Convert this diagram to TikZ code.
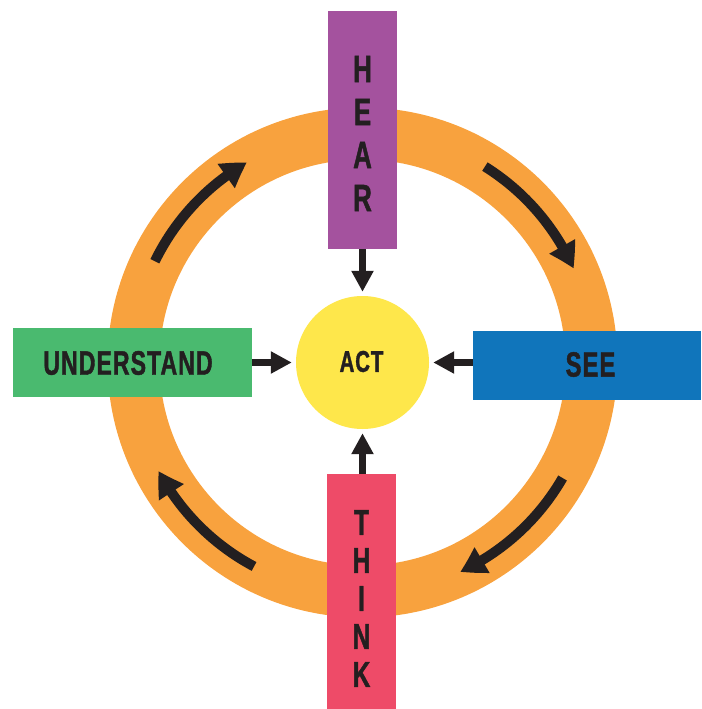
\documentclass[tikz,border=0pt]{standalone}
\usepackage{fontspec}
\usetikzlibrary{arrows.meta,bending}
\newfontfamily\labelfont{Liberation Sans}[FakeStretch=0.68,LetterSpace=3,FakeBold=1.2]

\definecolor{ringorange}{HTML}{F8A23E}
\definecolor{hearpurple}{HTML}{A4529E}
\definecolor{seeblue}{HTML}{1075BB}
\definecolor{understandgreen}{HTML}{4ABA6F}
\definecolor{thinkpink}{HTML}{EE4B68}
\definecolor{actyellow}{HTML}{FEE74B}
\definecolor{inkdark}{HTML}{231F20}

\tikzset{
  stagebox/.style={rectangle, draw=none, inner sep=0pt},
  hlabel/.style={text=inkdark, inner sep=0pt,
    font={\labelfont\bfseries\fontsize{34}{34}\selectfont}},
  vlabel/.style={text=inkdark, inner sep=0pt, align=center},
  flowarrow/.style={draw=inkdark, line width=10pt,
    -{Triangle[width=28pt,length=25pt,bend]}},
  feedarrow/.style={draw=inkdark, line width=7pt, shorten >=4pt,
    -{Triangle[width=21pt,length=21pt]}},
}

\begin{document}
\begin{tikzpicture}[x=1pt,y=-1pt]
  \useasboundingbox (0,0) rectangle (701,709);

  % centre of the cycle
  \coordinate (hub) at (362.5,362.5);

  % orange ring
  \draw[ringorange, line width=52pt] (hub) circle[radius=229];

  % clockwise arrows along the ring
  \draw[flowarrow] ([shift={(-154:231)}]hub) arc[start angle=-154, end angle=-120, radius=231];
  \draw[flowarrow] ([shift={(-58:231)}]hub) arc[start angle=-58, end angle=-24, radius=231];
  \draw[flowarrow] ([shift={(30:231)}]hub) arc[start angle=30, end angle=65, radius=231];
  \draw[flowarrow] ([shift={(118:231)}]hub) arc[start angle=118, end angle=152, radius=231];

  % stage boxes
  \node[stagebox, fill=hearpurple, minimum width=69pt, minimum height=238pt] (hear) at (362.5,130) {};
  \node[stagebox, fill=thinkpink, minimum width=69pt, minimum height=235pt] (think) at (361.5,591.5) {};
  \node[stagebox, fill=understandgreen, minimum width=239pt, minimum height=69pt] (understand) at (132.5,362.5) {};
  \node[stagebox, fill=seeblue, minimum width=228pt, minimum height=69pt] (see) at (587,365.5) {};

  % central circle
  \node[circle, fill=actyellow, inner sep=0pt, minimum size=133pt] (act) at (hub) {};

  % labels
  \node[hlabel] (understandtext) at (128,363) {UNDERSTAND};
  \node[hlabel, font={\labelfont\bfseries\fontsize{35}{35}\selectfont}] (seetext) at (590.5,364.5) {SEE};
  \node[hlabel, font={\labelfont\bfseries\fontsize{30}{30}\selectfont}] (acttext) at (361.5,361.5) {ACT};
  \node[vlabel, font={\labelfont\bfseries\fontsize{38}{43}\selectfont}] (heartext) at (362.5,133.5) {H\\E\\A\\R};
  \node[vlabel, font={\labelfont\bfseries\fontsize{36}{38}\selectfont}] (thinktext) at (361.5,598.5) {T\\H\\I\\N\\K};

  % arrows into the centre
  \draw[feedarrow] (hear.south) -- (act.north);
  \draw[feedarrow] (think.north -| act) -- (act.south);
  \draw[feedarrow] (understand.east |- act) -- (act.west);
  \draw[feedarrow] (see.west |- act) -- (act.east);
\end{tikzpicture}
\end{document}
